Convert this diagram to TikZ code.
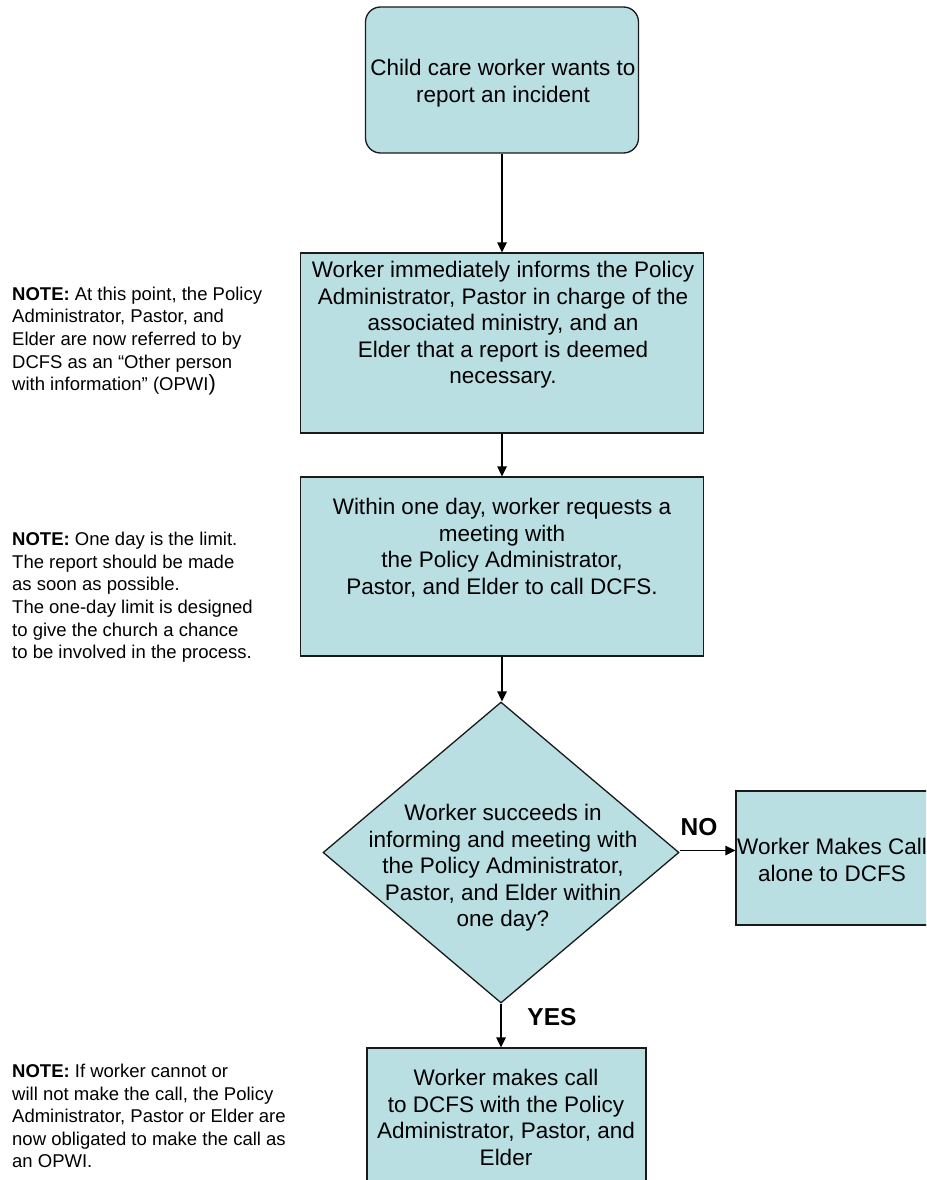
\documentclass[tikz,border=0pt]{standalone}
\usepackage{fontspec}
\setmainfont{Liberation Sans}
\usetikzlibrary{shapes.geometric,arrows.meta}
\definecolor{boxfill}{HTML}{B9DFE3}
\definecolor{edgecol}{HTML}{1A1A1A}
\begin{document}
\begin{tikzpicture}[x=1pt,y=-1pt,
  boxstyle/.style={draw=edgecol, fill=boxfill, line width=1.3pt, inner sep=0pt, rectangle},
  decstyle/.style={draw=edgecol, fill=boxfill, line width=1.3pt, inner sep=0pt, diamond},
  boxtext/.style={font=\fontsize{22.5}{26.5}\selectfont, align=center, inner sep=0pt},
  notetext/.style={font=\fontsize{18.5}{22.6}\selectfont, align=left, inner sep=0pt, anchor=west},
  lbl/.style={font=\fontsize{24.5}{26}\selectfont\bfseries, inner sep=0pt},
  conn/.style={-{Triangle[length=10pt,width=9.5pt]}, line width=1.4pt, draw=black}]
\useasboundingbox (0,0) rectangle (926,1180);
\clip (0,0) rectangle (926,1180);

% boxes
\node[boxstyle, rounded corners=15pt, minimum width=273pt, minimum height=146pt] (b1) at (502,80) {};
\node[boxtext] (t1) at (503,83) {Child care worker wants to\\report an incident};

\node[boxstyle, minimum width=403pt, minimum height=180pt] (b2) at (502,343) {};
\node[boxtext] (t2) at (503,325) {Worker immediately informs the Policy\\Administrator, Pastor in charge of the\\associated ministry, and an\\Elder that a report is deemed\\necessary.};

\node[boxstyle, minimum width=403pt, minimum height=179pt] (b3) at (502,566.5) {};
\node[boxtext] (t3) at (502,548) {Within one day, worker requests a\\meeting with\\the Policy Administrator,\\Pastor, and Elder to call DCFS.};

\node[decstyle, minimum width=356pt, minimum height=301pt] (d) at (501,852.5) {};
\node[boxtext] (td) at (503,868) {Worker succeeds in\\informing and meeting with\\the Policy Administrator,\\Pastor, and Elder within\\one day?};

\node[boxstyle, minimum width=194pt, minimum height=134pt] (b4) at (833,858) {};
\node[boxtext] (t4) at (832,860) {Worker Makes Call\\alone to DCFS};

\node[boxstyle, minimum width=279pt, minimum height=160pt] (b5) at (506.5,1128) {};
\node[boxtext] (t5) at (506,1117.5) {Worker makes call\\to DCFS with the Policy\\Administrator, Pastor, and\\Elder};

% connectors
\draw[conn] (b1.south) -- (b1.south |- b2.north);
\draw[conn] (b2.south) -- (b2.south |- b3.north);
\draw[conn] (b3.south) -- (b3.south |- d.north);
\draw[conn] ([yshift=2pt]d.east) -- ([yshift=2pt]d.east -| b4.west);
\draw[conn] (d.south) -- (d.south |- b5.north);

% labels
\node[lbl] (no) at (699,827) {NO};
\node[lbl] (yes) at (552,1017) {YES};

% notes
\node[notetext] (n1) at (12,341) {\textbf{NOTE:} At this point, the Policy\\Administrator, Pastor, and\\Elder are now referred to by\\DCFS as an “Other person\\with information” (OPWI{\fontsize{22}{22}\selectfont )}};
\node[notetext] (n2) at (12,597.5) {\textbf{NOTE:} One day is the limit.\\The report should be made\\as soon as possible.\\The one-day limit is designed\\to give the church a chance\\to be involved in the process.};
\node[notetext] (n3) at (12,1116) {\textbf{NOTE:} If worker cannot or\\will not make the call, the Policy\\Administrator, Pastor or Elder are\\now obligated to make the call as\\an OPWI.};
\end{tikzpicture}
\end{document}
